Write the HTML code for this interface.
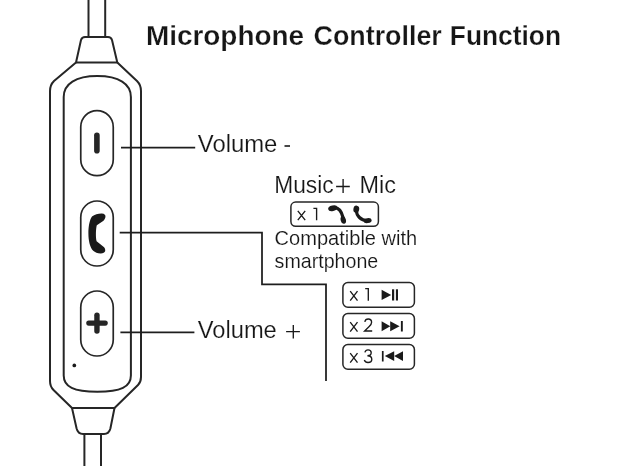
<!DOCTYPE html>
<html><head><meta charset="utf-8">
<style>
html,body{margin:0;padding:0;background:#fff;width:630px;height:466px;overflow:hidden}
svg{display:block;filter:grayscale(1)}
text{font-family:"Liberation Sans",sans-serif;fill:#161616;stroke:#fff;stroke-width:0.15px}
text.b{stroke-width:0.25px}
</style></head>
<body>
<svg width="630" height="466" viewBox="0 0 630 466">
<g fill="none" stroke="#262626" stroke-width="2" stroke-linejoin="round">
  <!-- top cable -->
  <line x1="88.5" y1="0" x2="88.5" y2="37"/>
  <line x1="105.2" y1="0" x2="105.2" y2="37"/>
  <!-- top trapezoid -->
  <path d="M76 62.5 L81 40 Q82 37 85 37 L108 37 Q111 37 112 40 L117.3 62.5 Z"/>
  <!-- outer body -->
  <path d="M76 62.5 L54 81 Q50 85 50 91 L50 381 Q50 386.5 53.5 390 L72 408 L114.5 408 L138 385 Q141 382 141 377 L141 91 Q141 85 137 81 L117.3 62.5"/>
  <!-- inner body -->
  <path d="M63.7 375.5 L63.7 97.0 C63.7 83.62 75.80 76.1 97.3 76.1 C118.80 76.1 130.9 83.62 130.9 97.0 L130.9 375.5 C130.9 386.91 120.82 391.8 97.3 391.8 C73.78 391.8 63.7 386.91 63.7 375.5 Z"/>
  <!-- bottom trapezoid -->
  <path d="M72 408 L76.6 428.5 Q78 434 83 434 L104 434 Q109 434 110.4 428.5 L114.5 408"/>
  <!-- bottom cable -->
  <line x1="84.4" y1="434" x2="84.4" y2="466"/>
  <line x1="101" y1="434" x2="101" y2="466"/>
  <!-- buttons -->
  <rect x="80.75" y="110.7" width="32.5" height="65" rx="16.25" stroke-width="1.7"/>
  <rect x="80.75" y="201" width="32.5" height="65" rx="16.25" stroke-width="1.7"/>
  <rect x="80.75" y="291" width="32.5" height="65" rx="16.25" stroke-width="1.7"/>
  <!-- minus -->
  <line x1="96.9" y1="135.4" x2="96.9" y2="150.8" stroke-width="5.6" stroke-linecap="round"/>
  <!-- plus -->
  <line x1="88.75" y1="323.1" x2="105.25" y2="323.1" stroke-width="5.1" stroke-linecap="round"/>
  <line x1="96.95" y1="315.2" x2="96.95" y2="331.1" stroke-width="5.4" stroke-linecap="round"/>
  <!-- connector lines -->
  <g stroke="#1e1e1e" stroke-width="1.75">
  <line x1="121" y1="147.6" x2="195.2" y2="147.6"/>
  <path d="M119.7 232.5 L262 232.5 L262 284.3 L326 284.3 L326 381" stroke-linejoin="miter"/>
  <line x1="120.4" y1="332.4" x2="194.4" y2="332.4"/>
  </g>
  <!-- boxes -->
  <g stroke="#262626" stroke-width="1.5">
  <rect x="290.9" y="202" width="87.5" height="24.3" rx="4.8"/>
  <rect x="342.9" y="282.5" width="71.5" height="24.7" rx="5"/>
  <rect x="342.9" y="313.5" width="71.5" height="24.7" rx="5"/>
  <rect x="342.9" y="344.5" width="71.5" height="24.7" rx="5"/>
  </g>
</g>
<!-- phone handset in button -->
<path fill="#1a1a1a" d="M92 216.5 C94.5 214.5 98.5 213.3 101.8 213.4 C104.5 213.5 106 215 105.4 217.3 C105 218.8 104.3 219.8 103.5 220.8 L96.8 225.3 C95.8 229 95.6 237 96.6 241.3 L103.8 247 C104.8 248 105.5 249.5 105.2 251 C104.8 252.7 102.8 253.5 100.5 253.4 C97.5 253.3 95 252.5 93.2 250.8 C90 247.5 88.4 240.5 88.4 233.4 C88.4 226 89.8 219.5 92 216.5 Z"/>
<!-- dot -->
<circle cx="74.3" cy="365.4" r="1.85" fill="#1a1a1a"/>
<!-- small phone icons -->
<g fill="#1a1a1a">
  <path fill="none" stroke="#1a1a1a" stroke-width="3.2" d="M333 207.8 C338 207 341.5 211 343.2 218"/>
  <ellipse cx="332.8" cy="208.3" rx="4.7" ry="2.7" transform="rotate(-12 332.6 208.3)"/>
  <ellipse cx="343.3" cy="220" rx="2.6" ry="3.9" transform="rotate(-15 343.3 220)"/>
  <path fill="none" stroke="#1a1a1a" stroke-width="3.2" d="M356.2 210 C356.5 216 361 220.5 367 220.6"/>
  <ellipse cx="356.3" cy="209.2" rx="2.9" ry="3.6" transform="rotate(10 356.3 209.2)"/>
  <ellipse cx="367.6" cy="220.6" rx="4.1" ry="2.5" transform="rotate(-10 367.6 220.6)"/>
</g>
<!-- media icons -->
<g fill="#1a1a1a">
  <path d="M381.6 289.7 L391.2 295 L381.6 300.1 Z"/>
  <rect x="392" y="289.3" width="2.2" height="11.2"/>
  <rect x="395.9" y="289.3" width="2.1" height="11.2"/>
  <path d="M381.6 321.2 L390.3 326.3 L381.6 331.3 Z"/>
  <path d="M390.2 321.2 L399.6 326.3 L390.2 331.3 Z"/>
  <rect x="400.9" y="321" width="1.9" height="10.5"/>
  <rect x="381.9" y="351" width="1.7" height="10.5"/>
  <path d="M394.2 351.2 L384.8 356.1 L394.2 361.1 Z"/>
  <path d="M403 351.2 L394.1 356.1 L403 361.1 Z"/>
</g>
<!-- glyph strokes -->
<g fill="none" stroke="#1a1a1a" stroke-width="1.35">
  <path d="M284.5 146 L290 146" stroke-width="1.6"/>
  <path d="M286.1 331.6 L299.9 331.6 M293.3 325 L293.3 338.5"/>
  <path d="M336.1 186.5 L349.8 186.5 M343.1 179 L343.1 193"/>
  <!-- box1 x 1 -->
  <path d="M297.8 210.8 L305.2 220.2 M305.2 210.8 L297.8 220.2"/>
  <path d="M313.4 208.3 L316.6 208.3 L316.6 220.3"/>
  <!-- x 1 -->
  <path d="M350.2 291.2 L357.5 300.6 M357.5 291.2 L350.2 300.6"/>
  <path d="M365.2 288.6 L368.3 288.6 L368.3 300.7"/>
  <!-- x 2 -->
  <path d="M350.2 322.2 L357.5 331.6 M357.5 322.2 L350.2 331.6"/>
  <path d="M364.8 321.8 C365.2 319.9 366.6 319 368.2 319 C370.3 319 371.6 320.4 371.6 322.3 C371.6 324 370.6 325.2 369.2 326.5 L364.6 331 L372.2 331"/>
  <!-- x 3 -->
  <path d="M350.2 353.2 L357.5 362.6 M357.5 353.2 L350.2 362.6"/>
  <path d="M364.9 352.4 C365.4 350.6 366.7 349.9 368 349.9 C370 349.9 371.2 351.1 371.2 352.8 C371.2 354.6 369.8 355.7 367.4 355.7 C370.2 355.7 371.8 357.2 371.8 359.3 C371.8 361.3 370.2 362.5 368 362.5 C366.3 362.5 364.9 361.7 364.3 360"/>
</g>
<!-- texts -->
<text x="145.9" y="44.7" font-size="27.9" font-weight="bold" class="b" textLength="158.2" lengthAdjust="spacingAndGlyphs">Microphone</text>
<text x="313.6" y="44.7" font-size="27.9" font-weight="bold" class="b" textLength="128.2" lengthAdjust="spacingAndGlyphs">Controller</text>
<text x="449.8" y="44.7" font-size="27.9" font-weight="bold" class="b" textLength="111.2" lengthAdjust="spacingAndGlyphs">Function</text>
<text x="197.8" y="151.8" font-size="23.1" textLength="79.6" lengthAdjust="spacingAndGlyphs">Volume</text>
<text x="197.8" y="338.1" font-size="23.1" textLength="79.0" lengthAdjust="spacingAndGlyphs">Volume</text>
<text x="274.2" y="193.0" font-size="23.3" textLength="59.4" lengthAdjust="spacingAndGlyphs">Music</text>
<text x="359.5" y="193.0" font-size="23.3" textLength="36.4" lengthAdjust="spacingAndGlyphs">Mic</text>
<text x="274.6" y="245.4" font-size="19.8" textLength="142.6" lengthAdjust="spacingAndGlyphs">Compatible with</text>
<text x="274.6" y="268.0" font-size="19.8" textLength="103.7" lengthAdjust="spacingAndGlyphs">smartphone</text>
</svg>
</body></html>
